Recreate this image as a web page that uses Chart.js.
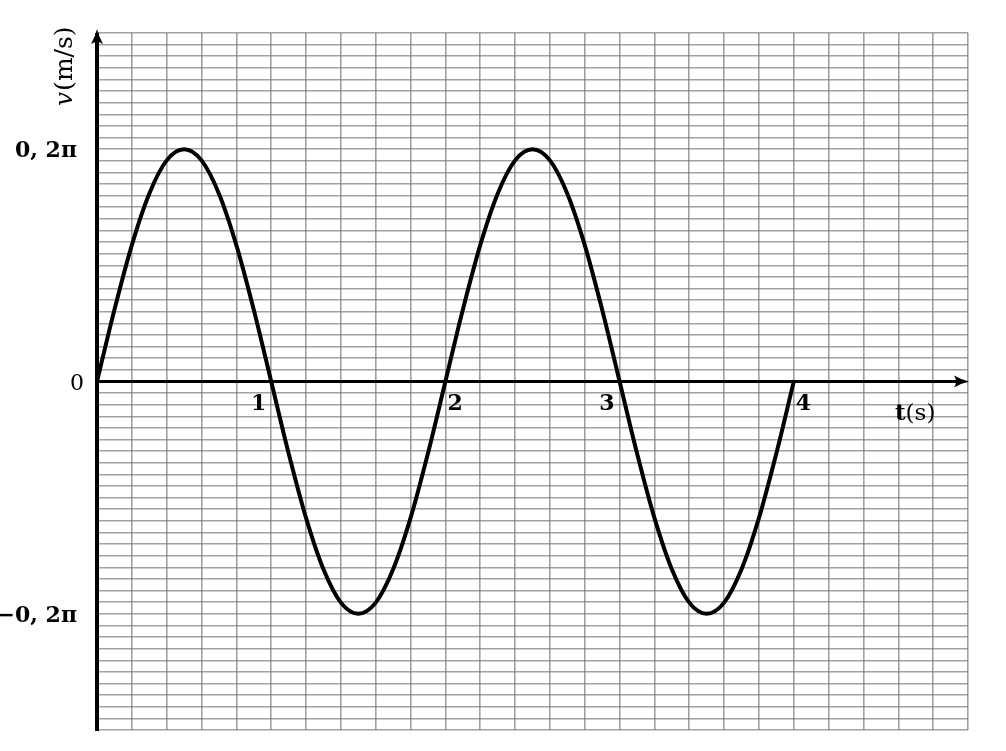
<!DOCTYPE html>
<html>
<head>
<meta charset="utf-8">
<script src="https://cdn.jsdelivr.net/npm/chart.js@4.4.1/dist/chart.umd.min.js"></script>
<style>
    html, body { margin: 0; padding: 0; background: #fff; }
    #wrap { width: 1006px; height: 751px; }
</style>
</head>
<body>
<div id="wrap"><canvas id="v_chart"></canvas></div>
<script>
var PI = Math.PI;

// t in s, v in m/s (amplitude 0,2pi, period 2 s)
var times = [0, 0.1, 0.2, 0.3, 0.4, 0.5, 0.6, 0.7, 0.8, 0.9,
             1.0, 1.1, 1.2, 1.3, 1.4, 1.5, 1.6, 1.7, 1.8, 1.9,
             2.0, 2.1, 2.2, 2.3, 2.4, 2.5, 2.6, 2.7, 2.8, 2.9,
             3.0, 3.1, 3.2, 3.3, 3.4, 3.5, 3.6, 3.7, 3.8, 3.9, 4.0];
var velocity = [0, 0.194, 0.369, 0.508, 0.598, 0.628, 0.598, 0.508, 0.369, 0.194,
                0, -0.194, -0.369, -0.508, -0.598, -0.628, -0.598, -0.508, -0.369, -0.194,
                0, 0.194, 0.369, 0.508, 0.598, 0.628, 0.598, 0.508, 0.369, 0.194,
                0, -0.194, -0.369, -0.508, -0.598, -0.628, -0.598, -0.508, -0.369, -0.194, 0];

var xTickValues = [1, 2, 3, 4];
var xTickLabels = ["1", "2", "3", "4"];
var xTickSide = ["right", "left", "right", "left"];
var yTickValues = [0.2 * PI, 0, -0.2 * PI];
var yTickLabels = ["0, 2\u03c0", "0", "\u22120, 2\u03c0"];
var yTickBold = [true, false, true];

var points = [];
for (var i = 0; i < times.length; i++) {
    points.push({ x: times[i], y: velocity[i] });
}

var FONT = '"DejaVu Serif"';

function arrowHead(ctx, tipX, tipY, dir) {
    // dir: 'right' or 'up'
    ctx.save();
    ctx.translate(tipX, tipY);
    if (dir === 'up') ctx.rotate(-PI / 2);
    ctx.beginPath();
    ctx.moveTo(0, 0);
    ctx.quadraticCurveTo(-7, -1.5, -15, -6);
    ctx.quadraticCurveTo(-11, 0, -15, 6);
    ctx.quadraticCurveTo(-7, 1.5, 0, 0);
    ctx.fillStyle = '#000';
    ctx.fill();
    ctx.restore();
}

var axesPlugin = {
    id: 'axes',
    beforeDatasetsDraw: function (chart) {
        var ctx = chart.ctx, sx = chart.scales.x, sy = chart.scales.y;
        var x0 = sx.getPixelForValue(0), y0 = sy.getPixelForValue(0);
        ctx.save();
        ctx.strokeStyle = '#000';
        ctx.lineWidth = 3;
        ctx.beginPath();
        ctx.moveTo(x0, y0);
        ctx.lineTo(sx.right - 6, y0);
        ctx.stroke();
        arrowHead(ctx, sx.right + 1, y0, 'right');

        ctx.lineWidth = 4;
        ctx.beginPath();
        ctx.moveTo(x0, sy.bottom + 1);
        ctx.lineTo(x0, sy.top);
        ctx.stroke();
        arrowHead(ctx, x0, sy.top - 4, 'up');
        ctx.restore();
    },
    afterDraw: function (chart) {
        var ctx = chart.ctx, sx = chart.scales.x, sy = chart.scales.y;
        var x0 = sx.getPixelForValue(0), y0 = sy.getPixelForValue(0);
        ctx.save();
        ctx.fillStyle = '#000';
        ctx.textBaseline = 'alphabetic';

        // y ticks
        ctx.textAlign = 'right';
        for (var i = 0; i < yTickValues.length; i++) {
            ctx.font = (yTickBold[i] ? 'bold ' : '') + '22px ' + FONT;
            ctx.fillText(yTickLabels[i], x0 - (yTickBold[i] ? 20 : 13), sy.getPixelForValue(yTickValues[i]) + 8);
        }

        // x ticks
        ctx.font = 'bold 22px ' + FONT;
        for (var j = 0; j < xTickValues.length; j++) {
            var px = sx.getPixelForValue(xTickValues[j]);
            if (xTickSide[j] === 'right') {
                ctx.textAlign = 'right';
                ctx.fillText(xTickLabels[j], px - 5, y0 + 28);
            } else {
                ctx.textAlign = 'left';
                ctx.fillText(xTickLabels[j], px + 2, y0 + 28);
            }
        }

        // x title: t(s)
        ctx.textAlign = 'left';
        ctx.font = 'bold 23px ' + FONT;
        var tx = 895;
        ctx.fillText('t', tx, y0 + 38);
        var tw = ctx.measureText('t').width;
        ctx.font = '23px ' + FONT;
        ctx.fillText('(s)', tx + tw, y0 + 38);

        // y title: v(m/s), rotated
        ctx.translate(x0 - 25, 106);
        ctx.rotate(-PI / 2);
        ctx.font = 'italic 25px ' + FONT;
        ctx.fillText('v', 0, 0);
        var vw = ctx.measureText('v').width;
        ctx.font = '25px ' + FONT;
        ctx.fillText('(m/s)', vw + 1, 0);
        ctx.restore();
    }
};

new Chart(document.getElementById("v_chart").getContext("2d"), {
    type: 'line',
    data: {
        datasets: [{
            label: 'v',
            data: points,
            borderColor: '#000',
            borderWidth: 4,
            pointRadius: 0,
            fill: false,
            cubicInterpolationMode: 'monotone'
        }]
    },
    options: {
        responsive: true,
        maintainAspectRatio: false,
        animation: false,
        layout: { padding: { left: 97, right: 38, top: 33, bottom: 21 } },
        plugins: { legend: { display: false }, tooltip: { enabled: false } },
        scales: {
            x: {
                type: 'linear',
                min: 0,
                max: 5,
                afterBuildTicks: function (axis) {
                    axis.ticks = [];
                    for (var k = 0; k <= 25; k++) axis.ticks.push({ value: k * 0.2 });
                },
                ticks: { display: false },
                border: { display: false },
                grid: { color: 'rgba(110,110,110,0.65)', lineWidth: 1.6, drawTicks: false }
            },
            y: {
                type: 'linear',
                min: -0.3 * PI,
                max: 0.3 * PI,
                afterBuildTicks: function (axis) {
                    axis.ticks = [];
                    for (var k = -30; k <= 30; k++) axis.ticks.push({ value: k * 0.01 * PI });
                },
                ticks: { display: false },
                border: { display: false },
                grid: { color: 'rgba(110,110,110,0.65)', lineWidth: 1.6, drawTicks: false }
            }
        }
    },
    plugins: [axesPlugin]
});
</script>
</body>
</html>
